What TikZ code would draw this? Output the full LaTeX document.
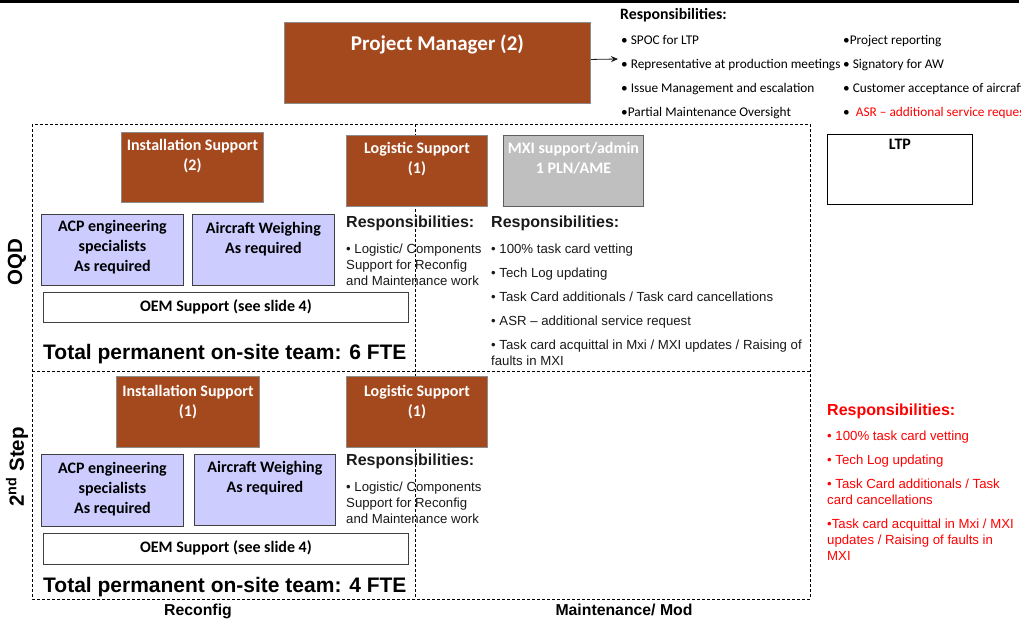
\documentclass[tikz,border=0pt]{standalone}
\usepackage{fontspec}
\setmainfont{Liberation Sans}
\newfontfamily\calibri{Carlito}
\usetikzlibrary{arrows.meta,positioning}
\definecolor{mgrbrown}{HTML}{A4481E}
\definecolor{boxedge}{HTML}{8C8C8C}
\definecolor{lavender}{HTML}{CCCCFF}
\definecolor{lavedge}{HTML}{404040}
\definecolor{mxigray}{HTML}{BFBFBF}
\definecolor{mxiedge}{HTML}{5F5F5F}
\definecolor{txtdark}{HTML}{1A1A1A}
\definecolor{alertred}{HTML}{FF0000}

\begin{document}
\begin{tikzpicture}[
  x=1pt, y=-1pt,
  >={Stealth[length=7pt, width=6pt]},
  brownbox/.style={draw=boxedge, fill=mgrbrown, line width=0.9pt, anchor=north west, inner sep=0pt},
  lavbox/.style={draw=lavedge, fill=lavender, line width=0.9pt, anchor=north west, inner sep=0pt},
  greybox/.style={draw=mxiedge, fill=mxigray, line width=0.9pt, anchor=north west, inner sep=0pt},
  plainbox/.style={draw=lavedge, fill=white, line width=0.9pt, anchor=north west, inner sep=0pt},
  boxlbl/.style={font=\calibri\bfseries\fontsize{16}{20}\selectfont, text=white, align=center, anchor=base, inner sep=0pt},
  darklbl/.style={boxlbl, text=black},
  resphead/.style={font=\bfseries\fontsize{16}{19}\selectfont, text=txtdark, anchor=base west, inner sep=0pt},
  respitem/.style={font=\fontsize{13.2}{16}\selectfont, text=txtdark, align=left, anchor=base west, inner sep=0pt},
  pmitem/.style={font=\calibri\fontsize{13.3}{16}\selectfont, anchor=base west, inner sep=0pt},
  teamlbl/.style={font=\bfseries\fontsize{21}{24}\selectfont, anchor=base west, inner sep=0pt},
  sidelbl/.style={font=\bfseries\fontsize{20.5}{24}\selectfont, rotate=90, anchor=center, inner sep=0pt},
  collbl/.style={font=\bfseries\fontsize{15.8}{18}\selectfont, anchor=base, inner sep=0pt},
  zone/.style={dashed, dash pattern=on 3pt off 2pt, line width=0.8pt}
]

  \useasboundingbox (0,0) rectangle (1021,623);
  \fill[white] (0,0) rectangle (1021,623);

  % Top rule
  \draw[line width=3pt] (0,2) -- (1019,2);

  % Project manager and its responsibilities
  \node[brownbox, minimum width=306, minimum height=81] (pm) at (284,22.5) {};
  \node[boxlbl, font=\calibri\bfseries\fontsize{21}{24}\selectfont] (pmlbl) at ([yshift=-28pt]pm.north) {Project Manager (2)};
  \coordinate (pmresp) at (618,59);
  \draw[->, line width=0.8pt, draw=txtdark] ([yshift=4pt]pm.east) -- (pmresp);
  \node[pmitem, font=\calibri\bfseries\fontsize{15.8}{18}\selectfont] (pmhead) at (620,20) {Responsibilities:};
  \foreach \y/\lbl [count=\i] in {45/{• SPOC for LTP}, 69/{• Representative at production meetings}, 93/{• Issue Management and escalation}, 117/{•Partial Maintenance Oversight}} {
    \node[pmitem] (pmleft\i) at (621,\y) {\lbl};
  }
  \foreach \y/\lbl [count=\i] in {45/{•Project reporting}, 69/{• Signatory for AW}, 93/{• Customer acceptance of aircraft}, 117/{•\ \ \textcolor{alertred}{ASR – additional service request}}} {
    \node[pmitem] (pmright\i) at (843,\y) {\lbl};
  }

  % Zones
  \draw[zone] (32,124) rectangle (810,599);
  \draw[zone] (415,124) -- (415,599);
  \draw[zone] (32,371) -- (810,371);

  % LTP
  \node[plainbox, draw=black, minimum width=145, minimum height=70] (ltp) at (827,134) {};
  \node[darklbl] (ltplbl) at ([yshift=-16pt]ltp.north) {LTP};

  % Row 1: OQD (multi-line labels sit on their last baseline)
  \node[sidelbl] (oqd) at (17,262) {OQD};
  \node[brownbox, minimum width=142, minimum height=70] (inst2) at (121,132) {};
  \node[boxlbl] (inst2lbl) at ([yshift=-39pt]inst2.north) {Installation Support\\(2)};
  \node[brownbox, minimum width=141, minimum height=71] (log1) at (346,135) {};
  \node[boxlbl] (log1lbl) at ([yshift=-39pt]log1.north) {Logistic Support\\(1)};
  \node[greybox, minimum width=140, minimum height=71] (mxi) at (503,135) {};
  \node[boxlbl] (mxilbl) at ([yshift=-39pt]mxi.north) {MXI support/admin\\1 PLN/AME};
  \node[lavbox, minimum width=142, minimum height=71] (acp1) at (41,214) {};
  \node[darklbl] (acp1lbl) at ([yshift=-57pt]acp1.north) {ACP engineering\\specialists\\As required};
  \node[lavbox, minimum width=142, minimum height=71] (weigh1) at (192,214) {};
  \node[darklbl] (weigh1lbl) at ([yshift=-39pt]weigh1.north) {Aircraft Weighing\\As required};
  \node[plainbox, minimum width=365, minimum height=30] (oem1) at (43,292) {};
  \node[darklbl] (oem1lbl) at ([yshift=-19pt]oem1.north) {OEM Support (see slide 4)};

  \node[resphead] (log1head) at (346,228) {Responsibilities:};
  \node[respitem] (log1resp) at (346,285) {• Logistic/ Components\\Support for Reconfig\\and Maintenance work};
  \node[resphead] (mxihead) at (491,228) {Responsibilities:};
  \node[respitem] (mxiresp) at (491,365) {• 100\% task card vetting\\[8pt]
    • Tech Log updating\\[8pt]
    • Task Card additionals / Task card cancellations\\[8pt]
    • ASR – additional service request\\[8pt]
    • Task card acquittal in Mxi / MXI updates / Raising of\\faults in MXI};

  \node[teamlbl] (team1) at (43,359) {Total permanent on-site team: 6 FTE};

  % Row 2: 2nd Step
  \node[sidelbl] (step2) at (17,467) {2\textsuperscript{nd} Step};
  \node[brownbox, minimum width=143, minimum height=71] (inst1) at (116,376) {};
  \node[boxlbl] (inst1lbl) at ([yshift=-40pt]inst1.north) {Installation Support\\(1)};
  \node[brownbox, minimum width=141, minimum height=71] (log2) at (346,376) {};
  \node[boxlbl] (log2lbl) at ([yshift=-40pt]log2.north) {Logistic Support\\(1)};
  \node[lavbox, minimum width=142, minimum height=72] (acp2) at (41,454) {};
  \node[darklbl] (acp2lbl) at ([yshift=-59pt]acp2.north) {ACP engineering\\specialists\\As required};
  \node[lavbox, minimum width=141, minimum height=71] (weigh2) at (194,454) {};
  \node[darklbl] (weigh2lbl) at ([yshift=-38pt]weigh2.north) {Aircraft Weighing\\As required};
  \node[plainbox, minimum width=365, minimum height=31] (oem2) at (43,533) {};
  \node[darklbl] (oem2lbl) at ([yshift=-19pt]oem2.north) {OEM Support (see slide 4)};

  \node[resphead] (log2head) at (346,465) {Responsibilities:};
  \node[respitem] (log2resp) at (346,523) {• Logistic/ Components\\Support for Reconfig\\and Maintenance work};

  \node[teamlbl] (team2) at (43,592) {Total permanent on-site team: 4 FTE};

  % Red responsibilities (outside zones)
  \node[resphead, text=alertred] (redhead) at (827,415) {Responsibilities:};
  \node[respitem, text=alertred] (redresp) at (827,560) {• 100\% task card vetting\\[8pt]
    • Tech Log updating\\[8pt]
    • Task Card additionals / Task\\card cancellations\\[8pt]
    •Task card acquittal in Mxi / MXI\\updates / Raising of faults in\\MXI};

  % Column labels
  \node[collbl] (reconfig) at (198,615) {Reconfig};
  \node[collbl] (maint) at (624,615) {Maintenance/ Mod};

\end{tikzpicture}
\end{document}
